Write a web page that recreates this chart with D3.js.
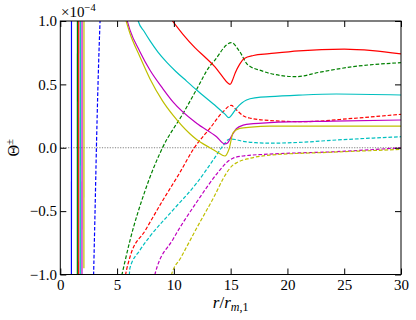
<!DOCTYPE html>
<html>
<head>
<meta charset="utf-8">
<script src="https://cdn.jsdelivr.net/npm/d3@7"></script>
<style>
  body { margin: 0; background: #fff; }
  svg, text { font-family: "Liberation Serif", "DejaVu Serif", serif; }
</style>
</head>
<body>
<script>
// values in units of 1e-4, pairs of [r / r_m1, theta]
const xTicks = [0, 5, 10, 15, 20, 25, 30];
const yTicks = [-1, -0.5, 0, 0.5, 1];

const bluePlus = [[0.98, -1.05], [0.985, 1.05]];
const blueMinus = [[2.92, -1.05], [3.06, -0.5], [3.18, 0], [3.32, 0.5], [3.52, 1.05]];

const greenPlus = [[1.5, -1.05], [1.505, 1.05]];
const greenMinus = [[5.3, -1.05], [5.43, -1.0], [6.14, -0.73], [7.5, -0.33], [9.0, 0.0], [10.82, 0.272],
  [12.0, 0.46], [13.17, 0.645], [13.6, 0.69], [14.63, 0.81], [15.05, 0.83], [15.8, 0.758], [16.5, 0.655],
  [17.7, 0.608], [18.44, 0.587], [20.8, 0.561], [22.8, 0.595], [25.8, 0.64], [30, 0.671]];

const redPlusLeft = [[1.62, -1.05], [1.625, 1.05]];
const redPlus = [[9.8, 1.01], [10.8, 0.895], [11.85, 0.79], [12.8, 0.71], [13.6, 0.64], [14.3, 0.56],
  [14.78, 0.508], [14.95, 0.5], [15.15, 0.53], [15.4, 0.59], [15.8, 0.66], [16.2, 0.705], [17, 0.728],
  [18.4, 0.742], [21, 0.765], [25, 0.778], [27.5, 0.766], [30, 0.74]];
const redMinus = [[5.65, -1.05], [5.75, -1.0], [6.14, -0.86], [7.5, -0.65], [9.06, -0.41], [10.5, -0.2],
  [11.8, 0.0], [13.17, 0.153], [14.34, 0.285], [15.05, 0.335], [15.5, 0.3], [16.1, 0.252], [16.8, 0.232],
  [18.44, 0.215], [21.4, 0.206], [25.8, 0.232], [30, 0.264]];

const cyanPlusLeft = [[1.76, -1.05], [1.765, 1.05]];
const cyanPlus = [[6.75, 1.05], [6.86, 1.0], [7.4, 0.915], [7.89, 0.845], [8.6, 0.755], [9.4, 0.672],
  [10.2, 0.6], [11.12, 0.526], [12.0, 0.456], [13.76, 0.324], [14.5, 0.265], [14.84, 0.237],
  [15.1, 0.26], [15.51, 0.311], [16.4, 0.377], [17.3, 0.395], [18.44, 0.403], [21, 0.415],
  [24.3, 0.424], [30, 0.416]];
const cyanMinus = [[6.05, -1.05], [6.13, -0.95], [7.0, -0.81], [7.89, -0.7], [9.94, -0.49], [12.0, -0.28],
  [13.46, -0.097], [14.2, 0.0], [14.9, 0.068], [15.4, 0.065], [16.1, 0.05], [17.2, 0.04], [18.44, 0.036],
  [21, 0.042], [24.3, 0.061], [30, 0.087]];

const magentaPlusLeft = [[1.91, -1.05], [1.915, 1.05]];
const magentaPlus = [[5.8, 1.03], [6.13, 0.93], [7.0, 0.76], [7.89, 0.613], [9.0, 0.47], [9.94, 0.36],
  [12.0, 0.193], [13.76, 0.087], [14.5, 0.03], [14.75, 0.04], [15.07, 0.09], [15.5, 0.15], [16.1, 0.178],
  [17, 0.19], [18.44, 0.198], [24, 0.21], [30, 0.219]];
const magentaMinus = [[8.25, -1.05], [8.33, -1.0], [9.94, -0.72], [12.0, -0.43], [14.05, -0.176],
  [14.6, -0.12], [15.2, -0.083], [16.1, -0.065], [18.44, -0.05], [24.3, -0.031], [30, 0.0]];

const yellowPlusLeft = [[2.08, -0.95], [2.085, 1.05]];
const yellowPlus = [[5.7, 1.03], [6.13, 0.903], [7.0, 0.72], [7.89, 0.545], [9.0, 0.37], [9.94, 0.255],
  [11.41, 0.11], [12.0, 0.065], [13.17, 0.0], [13.76, -0.031], [14.49, -0.065], [14.86, -0.01],
  [15.22, 0.12], [15.8, 0.153], [16.8, 0.163], [18.44, 0.17], [30, 0.171]];
const yellowMinus = [[9.7, -1.05], [9.8, -1.0], [10.6, -0.87], [12.0, -0.635], [13.46, -0.4],
  [14.63, -0.2], [15.1, -0.145], [15.6, -0.115], [16.7, -0.083], [18.44, -0.058], [24, -0.035], [30, -0.013]];

const W = 416, H = 320;
const margin = {left: 60.3, right: 15, top: 21, bottom: 45.5};

const svg = d3.select("body").append("svg")
  .attr("width", W)
  .attr("height", H);

const x = d3.scaleLinear().domain([0, 30]).range([margin.left, W - margin.right]);
const y = d3.scaleLinear().domain([-1, 1]).range([H - margin.bottom, margin.top]);

svg.append("clipPath").attr("id", "clip")
  .append("rect")
  .attr("x", x(0)).attr("y", y(1))
  .attr("width", x(30) - x(0)).attr("height", y(-1) - y(1));

const plot = svg.append("g").attr("clip-path", "url(#clip)");

// zero line
plot.append("line")
  .attr("x1", x(0)).attr("x2", x(30))
  .attr("y1", y(0)).attr("y2", y(0))
  .attr("stroke", "#808080")
  .attr("stroke-width", 1.1)
  .attr("stroke-dasharray", "1.2,1.4");

const smooth = d3.line().x(d => x(d[0])).y(d => y(d[1])).curve(d3.curveMonotoneX);
const straight = d3.line().x(d => x(d[0])).y(d => y(d[1]));

const curves = [
  {data: bluePlus, color: "#0000ff", dash: false, gen: straight},
  {data: blueMinus, color: "#0000ff", dash: true, gen: smooth},
  {data: greenPlus, color: "#008000", dash: false, gen: straight},
  {data: greenMinus, color: "#008000", dash: true, gen: smooth},
  {data: redPlusLeft, color: "#ff0000", dash: false, gen: straight},
  {data: redPlus, color: "#ff0000", dash: false, gen: smooth},
  {data: redMinus, color: "#ff0000", dash: true, gen: smooth},
  {data: cyanPlusLeft, color: "#00bfbf", dash: false, gen: straight},
  {data: cyanPlus, color: "#00bfbf", dash: false, gen: smooth},
  {data: cyanMinus, color: "#00bfbf", dash: true, gen: smooth},
  {data: magentaPlusLeft, color: "#bf00bf", dash: false, gen: straight},
  {data: magentaPlus, color: "#bf00bf", dash: false, gen: smooth},
  {data: magentaMinus, color: "#bf00bf", dash: true, gen: smooth},
  {data: yellowPlusLeft, color: "#bfbf00", dash: false, gen: straight},
  {data: yellowPlus, color: "#bfbf00", dash: false, gen: smooth},
  {data: yellowMinus, color: "#bfbf00", dash: true, gen: smooth}
];

plot.selectAll("path.curve")
  .data(curves)
  .enter()
  .append("path")
  .attr("class", "curve")
  .attr("d", d => d.gen(d.data))
  .attr("fill", "none")
  .attr("stroke", d => d.color)
  .attr("stroke-width", 1.2)
  .attr("stroke-dasharray", d => d.dash ? "3.7,1.9" : null);

// axes, ticks pointing inward on all four sides
const fmt = d3.format(".1f");
const axBottom = svg.append("g")
  .attr("transform", "translate(0," + y(-1) + ")")
  .call(d3.axisBottom(x).tickValues(xTicks).tickSizeInner(-6).tickSizeOuter(0).tickPadding(5).tickFormat(d3.format("d")));
const axLeft = svg.append("g")
  .attr("transform", "translate(" + x(0) + ",0)")
  .call(d3.axisLeft(y).tickValues(yTicks).tickSizeInner(-6).tickSizeOuter(0).tickPadding(3.3).tickFormat(fmt));
const axTop = svg.append("g")
  .attr("transform", "translate(0," + y(1) + ")")
  .call(d3.axisTop(x).tickValues(xTicks).tickSizeInner(-6).tickSizeOuter(0).tickFormat(""));
const axRight = svg.append("g")
  .attr("transform", "translate(" + x(30) + ",0)")
  .call(d3.axisRight(y).tickValues(yTicks).tickSizeInner(-6).tickSizeOuter(0).tickFormat(""));

[axBottom, axLeft, axTop, axRight].forEach(g => {
  g.attr("font-family", null);
  g.select(".domain").remove();
  g.selectAll("line").attr("stroke", "#000").attr("stroke-width", 1);
  g.selectAll("text").attr("font-size", 15).attr("fill", "#000");
});

svg.append("rect")
  .attr("x", x(0)).attr("y", y(1))
  .attr("width", x(30) - x(0)).attr("height", y(-1) - y(1))
  .attr("fill", "none")
  .attr("stroke", "#000")
  .attr("stroke-width", 1);

// offset text
const off = svg.append("text")
  .attr("x", 61).attr("y", 17)
  .attr("font-size", 15);
off.append("tspan").text("×10");
off.append("tspan").attr("font-size", 10.5).attr("dy", -6).text("−4");

// axis labels
const yl = svg.append("text")
  .attr("transform", "translate(19," + y(0) + ") rotate(-90)")
  .attr("text-anchor", "middle")
  .attr("font-size", 16);
yl.append("tspan").text("Θ");
yl.append("tspan").attr("font-size", 11).attr("dy", -6).text("±");

const xl = svg.append("text")
  .attr("x", x(15)).attr("y", 308)
  .attr("text-anchor", "middle")
  .attr("font-size", 17);
xl.append("tspan").attr("font-style", "italic").text("r");
xl.append("tspan").text("/");
xl.append("tspan").attr("font-style", "italic").text("r");
xl.append("tspan").attr("font-size", 12).attr("dy", 3).attr("font-style", "italic").text("m");
xl.append("tspan").attr("font-size", 12).text(",1");
</script>
</body>
</html>
